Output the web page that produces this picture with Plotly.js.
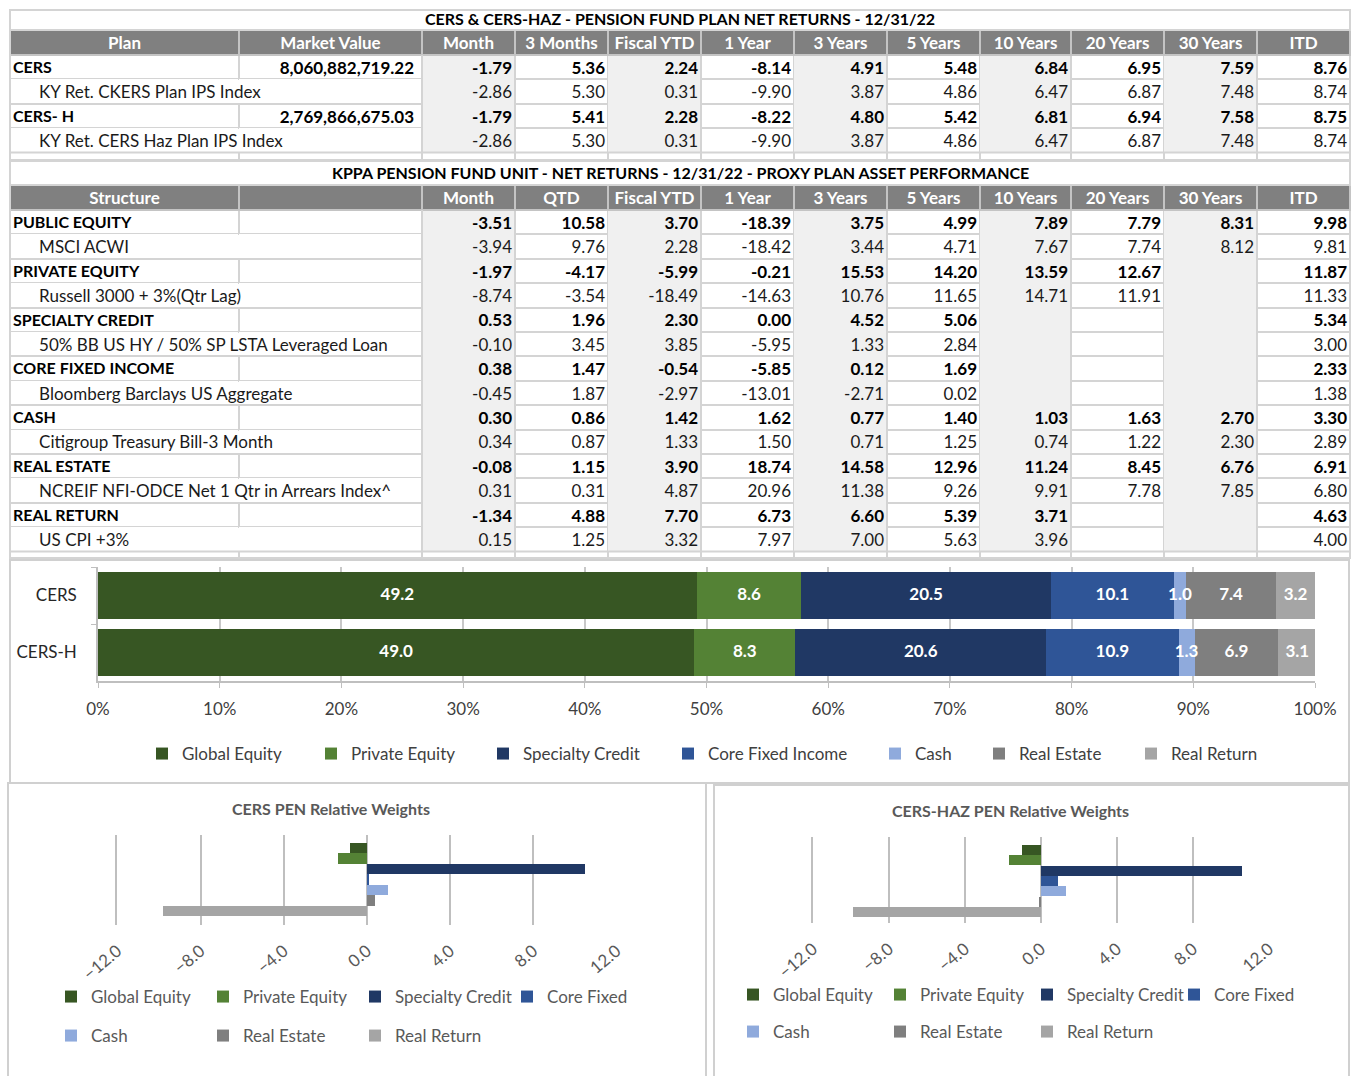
<!DOCTYPE html>
<html>
<head>
<meta charset="utf-8">
<script src="https://cdn.plot.ly/plotly-3.0.1.min.js"></script>
<style>html,body{margin:0;padding:0;background:#fff;}</style>
</head>
<body>
<div id="chart" style="width:1357px;height:1076px;"></div>
<script>
// ================= DATA =================
// Table 1: plan net returns
const planHeaders = ['Plan', 'Market Value', 'Month', '3 Months', 'Fiscal YTD', '1 Year', '3 Years', '5 Years', '10 Years', '20 Years', '30 Years', 'ITD'];
const planLabels = ['CERS', 'KY Ret. CKERS Plan IPS Index', 'CERS- H', 'KY Ret. CERS Haz Plan IPS Index'];
const planIsFund = [true, false, true, false];
const planMarketValue = [8060882719.22, null, 2769866675.03, null];
const planMonth = [-1.79, -2.86, -1.79, -2.86];
const plan3Months = [5.36, 5.30, 5.41, 5.30];
const planFiscalYTD = [2.24, 0.31, 2.28, 0.31];
const plan1Year = [-8.14, -9.90, -8.22, -9.90];
const plan3Years = [4.91, 3.87, 4.80, 3.87];
const plan5Years = [5.48, 4.86, 5.42, 4.86];
const plan10Years = [6.84, 6.47, 6.81, 6.47];
const plan20Years = [6.95, 6.87, 6.94, 6.87];
const plan30Years = [7.59, 7.48, 7.58, 7.48];
const planITD = [8.76, 8.74, 8.75, 8.74];

// Table 2: proxy plan asset performance
const structureHeaders = ['Structure', '', 'Month', 'QTD', 'Fiscal YTD', '1 Year', '3 Years', '5 Years', '10 Years', '20 Years', '30 Years', 'ITD'];
const structureLabels = ['PUBLIC EQUITY', 'MSCI ACWI', 'PRIVATE EQUITY', 'Russell 3000 + 3%(Qtr Lag)', 'SPECIALTY CREDIT',
  '50% BB US HY / 50% SP LSTA Leveraged Loan', 'CORE FIXED INCOME', 'Bloomberg Barclays US Aggregate', 'CASH',
  'Citigroup Treasury Bill-3 Month', 'REAL ESTATE', 'NCREIF NFI-ODCE Net 1 Qtr in Arrears Index^', 'REAL RETURN', 'US CPI +3%'];
const structureIsComposite = [true, false, true, false, true, false, true, false, true, false, true, false, true, false];
const assetMonth = [-3.51, -3.94, -1.97, -8.74, 0.53, -0.10, 0.38, -0.45, 0.30, 0.34, -0.08, 0.31, -1.34, 0.15];
const assetQTD = [10.58, 9.76, -4.17, -3.54, 1.96, 3.45, 1.47, 1.87, 0.86, 0.87, 1.15, 0.31, 4.88, 1.25];
const assetFiscalYTD = [3.70, 2.28, -5.99, -18.49, 2.30, 3.85, -0.54, -2.97, 1.42, 1.33, 3.90, 4.87, 7.70, 3.32];
const asset1Year = [-18.39, -18.42, -0.21, -14.63, 0.00, -5.95, -5.85, -13.01, 1.62, 1.50, 18.74, 20.96, 6.73, 7.97];
const asset3Years = [3.75, 3.44, 15.53, 10.76, 4.52, 1.33, 0.12, -2.71, 0.77, 0.71, 14.58, 11.38, 6.60, 7.00];
const asset5Years = [4.99, 4.71, 14.20, 11.65, 5.06, 2.84, 1.69, 0.02, 1.40, 1.25, 12.96, 9.26, 5.39, 5.63];
const asset10Years = [7.89, 7.67, 13.59, 14.71, null, null, null, null, 1.03, 0.74, 11.24, 9.91, 3.71, 3.96];
const asset20Years = [7.79, 7.74, 12.67, 11.91, null, null, null, null, 1.63, 1.22, 8.45, 7.78, null, null];
const asset30Years = [8.31, 8.12, null, null, null, null, null, null, 2.70, 2.30, 6.76, 7.85, null, null];
const assetITD = [9.98, 9.81, 11.87, 11.33, 5.34, 3.00, 2.33, 1.38, 3.30, 2.89, 6.91, 6.80, 4.63, 4.00];

// Allocation (stacked bar)
const allocPlans = ['CERS', 'CERS-H'];
const assetClasses = ['Global Equity', 'Private Equity', 'Specialty Credit', 'Core Fixed Income', 'Cash', 'Real Estate', 'Real Return'];
const cersAllocation = [49.2, 8.6, 20.5, 10.1, 1.0, 7.4, 3.2];
const cersHAllocation = [49.0, 8.3, 20.6, 10.9, 1.3, 6.9, 3.1];

// Relative weights
const relClasses = ['Global Equity', 'Private Equity', 'Specialty Credit', 'Core Fixed', 'Cash', 'Real Estate', 'Real Return'];
const cersRelWeights = [-0.8, -1.4, 10.5, 0.1, 1.0, 0.4, -9.8];
const cersHazRelWeights = [-1.0, -1.7, 10.6, 0.9, 1.3, -0.1, -9.9];
const relTicks = [-12, -8, -4, 0, 4, 8, 12];

// ================= STYLE / GEOMETRY =================
const W = 1357, H = 1076;
const px = x => x / W;
const py = y => 1 - y / H;
const FONT = 'Lato, "Open Sans", sans-serif';
const GRID = '#d4d4d4';
const CLEAR = 'rgba(0,0,0,0)';
const ROWH = 24.4, HEADH = 25;
const TEXT_LIFT = 2;
const colWidths = [229, 183, 93, 93, 93, 93, 93, 93, 91, 93, 93, 93];
const colShade = ['#ffffff', '#ffffff', '#f0f0f0', '#ffffff', '#f0f0f0', '#ffffff', '#f0f0f0', '#ffffff', '#f0f0f0', '#ffffff', '#f0f0f0', '#ffffff'];
const seriesColors = ['#375623', '#548235', '#203864', '#2F5597', '#8FAADC', '#7F7F7F', '#A5A5A5'];
const nb = s => String(s).replace(/ /g, '\u00a0');
const INDENT = '\u00a0'.repeat(6);
const fmtMoney = v => v.toLocaleString('en-US', {minimumFractionDigits: 2, maximumFractionDigits: 2});
const dom = (x0, x1, top, n) => ({x: [px(x0), px(x1)], y: [py(top + HEADH + n * ROWH + 1), py(top)]});

// cell backgrounds and grid lines only
function gridTable(headers, isBold, top) {
  const fills = headers.map((h, c) => isBold.map(() => colShade[c]));
  const lines = headers.map((h, c) => isBold.map(b =>
    c < 2 ? (b ? GRID : CLEAR) : (colShade[c] === '#ffffff' ? GRID : CLEAR)));
  return {
    type: 'table', domain: dom(10, 1350, top, isBold.length), columnwidth: colWidths,
    header: {values: headers.map(() => ''), height: HEADH, fill: {color: '#808080'}, line: {color: '#c4c4c4', width: 2},
      font: {family: FONT, size: 17, color: '#ffffff'}},
    cells: {values: headers.map(() => isBold.map(() => '')), height: ROWH,
      fill: {color: fills}, line: {color: lines, width: 2}, font: {family: FONT, size: 17, color: '#000'}},
    hoverinfo: 'skip'
  };
}
// header captions + market value column (transparent overlay)
function headerTable(headers, isBold, marketValues, top) {
  const values = headers.map((h, c) => isBold.map((b, r) =>
    (c === 1 && marketValues && marketValues[r] != null) ? fmtMoney(marketValues[r]) : ''));
  return {
    type: 'table', domain: dom(10, 1350, top - TEXT_LIFT, isBold.length), columnwidth: colWidths,
    header: {values: headers.map(h => nb(h)), height: HEADH, align: 'center',
      fill: {color: CLEAR}, line: {color: CLEAR, width: 0},
      font: {family: FONT, size: 17, color: '#ffffff', weight: 'bold'}},
    cells: {values: values, height: ROWH, align: 'right',
      fill: {color: CLEAR}, line: {color: CLEAR, width: 0},
      font: {family: FONT, size: 17, color: '#000000', weight: 'bold'}},
    hoverinfo: 'skip'
  };
}
// row labels + return figures (transparent overlay)
function textTable(labels, isBold, cols, top) {
  const labelCol = labels.map((l, r) => isBold[r] ? nb(l) : INDENT + nb(l));
  const numCols = cols.map(col => col.map(v => v == null ? '' : v.toFixed(2)));
  const values = [labelCol].concat(numCols);
  const weights = values.map(() => isBold.map(b => b ? 'bold' : 'normal'));
  const colors = values.map(() => isBold.map(b => b ? '#000000' : '#1a1a1a'));
  const sizes = values.map((v, c) => isBold.map(b => (c === 0 && b) ? 16 : 17));
  return {
    type: 'table', domain: dom(5, 1355, top - TEXT_LIFT, labels.length),
    columnwidth: [422, 93, 93, 93, 93, 93, 93, 91, 93, 93, 93],
    header: {values: values.map(() => ''), height: HEADH,
      fill: {color: CLEAR}, line: {color: CLEAR, width: 0}, font: {family: FONT, size: 17, color: CLEAR}},
    cells: {values: values, height: ROWH, align: values.map((v, c) => c === 0 ? 'left' : 'right'),
      fill: {color: CLEAR}, line: {color: CLEAR, width: 0},
      font: {family: FONT, size: sizes, color: colors, weight: weights}},
    hoverinfo: 'skip'
  };
}

const T1_TOP = 30, T2_TOP = 185;
const planCols = [planMonth, plan3Months, planFiscalYTD, plan1Year, plan3Years, plan5Years, plan10Years, plan20Years, plan30Years, planITD];
const assetCols = [assetMonth, assetQTD, assetFiscalYTD, asset1Year, asset3Years, asset5Years, asset10Years, asset20Years, asset30Years, assetITD];
const traces = [
  gridTable(planHeaders, planIsFund, T1_TOP),
  headerTable(planHeaders, planIsFund, planMarketValue, T1_TOP),
  textTable(planLabels, planIsFund, planCols, T1_TOP),
  gridTable(structureHeaders, structureIsComposite, T2_TOP),
  headerTable(structureHeaders, structureIsComposite, null, T2_TOP),
  textTable(structureLabels, structureIsComposite, assetCols, T2_TOP)
];

// Stacked allocation bars
const stackLegendWidths = [124, 127, 140, 162, 59, 107, 90];
const allocSeries = [cersAllocation, cersHAllocation];
assetClasses.forEach((name, i) => {
  traces.push({
    type: 'bar', orientation: 'h', name: name,
    x: allocSeries.map(s => s[i]), y: allocPlans, xaxis: 'x', yaxis: 'y', width: 0.82,
    marker: {color: seriesColors[i], line: {width: 0}},
    legend: 'legend', legendwidth: stackLegendWidths[i], hoverinfo: 'skip'
  });
});
// segment value labels, centred on each stacked segment and drawn above all bars
const labelX = [], labelY = [], labelT = [];
allocSeries.forEach((s, p) => {
  let cum = 0;
  s.forEach(v => { labelX.push(cum + v / 2); labelY.push(allocPlans[p]); labelT.push(v.toFixed(1)); cum += v; });
});
traces.push({
  type: 'scatter', mode: 'text', x: labelX, y: labelY, text: labelT, xaxis: 'x', yaxis: 'y',
  textposition: 'middle center', cliponaxis: false, showlegend: false, hoverinfo: 'skip',
  textfont: {family: FONT, size: 17, color: '#ffffff', weight: 'bold'}
});

// Relative weights bars
function relTraces(values, xa, ya, legA, legB, lw) {
  relClasses.forEach((name, i) => {
    traces.push({
      type: 'bar', orientation: 'h', name: name,
      x: [values[i]], y: [name], xaxis: xa, yaxis: ya, width: 0.98,
      marker: {color: seriesColors[i], line: {width: 0}},
      legend: i < 4 ? legA : legB, legendwidth: lw, hoverinfo: 'skip'
    });
  });
}
relTraces(cersRelWeights, 'x2', 'y2', 'legend2', 'legend3', 107);
relTraces(cersHazRelWeights, 'x3', 'y3', 'legend4', 'legend5', 102);

// ================= SHAPES (frames) =================
const shapes = [];
function rect(x0, y0, x1, y1, color, w) {
  shapes.push({type: 'rect', xref: 'paper', yref: 'paper', x0: px(x0), x1: px(x1), y0: py(y1), y1: py(y0),
    line: {color: color || GRID, width: w || 2}, fillcolor: CLEAR, layer: 'above'});
}
function vline(x, y0, y1, color, w) {
  shapes.push({type: 'line', xref: 'paper', yref: 'paper', x0: px(x), x1: px(x), y0: py(y1), y1: py(y0),
    line: {color: color || GRID, width: w || 2}, layer: 'above'});
}
const bounds = [10];
colWidths.forEach(w => bounds.push(bounds[bounds.length - 1] + w));
rect(10, 10, 1350, 30);
rect(10, 161, 1350, 185);
const t1End = T1_TOP + HEADH + planLabels.length * ROWH;
const t2End = T2_TOP + HEADH + structureLabels.length * ROWH;
rect(10, t1End, 1350, 160);
rect(10, t2End, 1350, 558);
bounds.forEach(b => { vline(b, t1End, 160); vline(b, t2End, 558); });
vline(10, 10, 560);
vline(422, T1_TOP + HEADH, t1End);
vline(422, T2_TOP + HEADH, t2End);
rect(10, 560, 1349, 783, '#d0d0d0');
rect(8, 783, 706, 1080, '#d0d0d0');
rect(714, 785, 1349, 1080, '#d0d0d0');

// ================= ANNOTATIONS =================
const annoBase = {xref: 'paper', yref: 'paper', showarrow: false, xanchor: 'center', yanchor: 'middle'};
const annotations = [
  Object.assign({text: 'CERS &amp; CERS-HAZ - PENSION FUND PLAN NET RETURNS - 12/31/22', x: px(680), y: py(19),
    font: {family: FONT, size: 16, color: '#000000', weight: 'bold'}}, annoBase),
  Object.assign({text: 'KPPA PENSION FUND UNIT - NET RETURNS - 12/31/22 - PROXY PLAN ASSET PERFORMANCE', x: px(680), y: py(173),
    font: {family: FONT, size: 16, color: '#000000', weight: 'bold'}}, annoBase),
  Object.assign({text: 'CERS PEN Relative Weights', x: px(331), y: py(808),
    font: {family: FONT, size: 16, color: '#595959', weight: 'bold'}}, annoBase),
  Object.assign({text: 'CERS-HAZ PEN Relative Weights', x: px(1011), y: py(810),
    font: {family: FONT, size: 16, color: '#595959', weight: 'bold'}}, annoBase)
];

// ================= LAYOUT =================
const legendBase = {orientation: 'h', xanchor: 'left', yanchor: 'middle', bgcolor: CLEAR, traceorder: 'normal',
  itemclick: false, itemdoubleclick: false};
const relX = (lo, hi) => ({
  domain: [px(lo), px(hi)], range: [-12, 12], tickvals: relTicks, tickformat: '.1f', tickangle: -40,
  showgrid: true, gridcolor: '#bfbfbf', gridwidth: 1.5, zeroline: false, showline: false, ticks: '',
  ticklabelstandoff: 12, tickfont: {family: FONT, size: 17, color: '#595959'}, fixedrange: true
});
const relY = (top, bottom, r0, r1, xa) => ({
  domain: [py(bottom), py(top)], type: 'category', categoryorder: 'array', categoryarray: relClasses,
  range: [r0, r1], showticklabels: false, showgrid: false, zeroline: false, showline: true,
  linecolor: '#bfbfbf', linewidth: 1.5, ticks: '', anchor: xa, fixedrange: true
});

const layout = {
  width: W, height: H, autosize: false,
  margin: {l: 0, r: 0, t: 0, b: 0, pad: 0},
  paper_bgcolor: '#ffffff', plot_bgcolor: CLEAR,
  font: {family: FONT, color: '#404040'},
  barmode: 'stack', showlegend: true,
  xaxis: {
    domain: [px(98), px(1315)], range: [0, 100], dtick: 10, ticksuffix: '%', anchor: 'y',
    showgrid: true, gridcolor: '#c8c8c8', gridwidth: 1.5, zeroline: false,
    showline: true, linecolor: '#bfbfbf', linewidth: 1.5, ticks: 'outside', ticklen: 5, tickcolor: '#bfbfbf',
    ticklabelstandoff: 7, tickfont: {family: FONT, size: 17, color: '#404040'}, fixedrange: true
  },
  yaxis: {
    domain: [py(681), py(567)], type: 'category', categoryorder: 'array', categoryarray: allocPlans,
    range: [1.5, -0.5], anchor: 'x', showgrid: false, zeroline: false,
    showline: true, linecolor: '#bfbfbf', linewidth: 1.5, ticks: 'outside', tickson: 'boundaries',
    ticklen: 5, tickcolor: '#bfbfbf', ticklabelstandoff: 16,
    tickfont: {family: FONT, size: 17, color: '#262626'}, fixedrange: true
  },
  xaxis2: Object.assign(relX(117.4, 616.6), {anchor: 'y2'}),
  yaxis2: relY(835, 925, 7.333, -1.238, 'x2'),
  xaxis3: Object.assign(relX(813, 1269), {anchor: 'y3'}),
  yaxis3: relY(837, 923, 7.065, -1.258, 'x3'),
  legend: Object.assign({}, legendBase, {x: px(142), y: py(754), font: {family: FONT, size: 17, color: '#404040'}}),
  legend2: Object.assign({}, legendBase, {x: px(51), y: py(997), font: {family: FONT, size: 17, color: '#595959'}}),
  legend3: Object.assign({}, legendBase, {x: px(51), y: py(1036), font: {family: FONT, size: 17, color: '#595959'}}),
  legend4: Object.assign({}, legendBase, {x: px(733), y: py(995), font: {family: FONT, size: 17, color: '#595959'}}),
  legend5: Object.assign({}, legendBase, {x: px(733), y: py(1032), font: {family: FONT, size: 17, color: '#595959'}}),
  shapes: shapes,
  annotations: annotations
};

Plotly.newPlot('chart', traces, layout, {displayModeBar: false, staticPlot: false, responsive: false});
</script>
</body>
</html>
